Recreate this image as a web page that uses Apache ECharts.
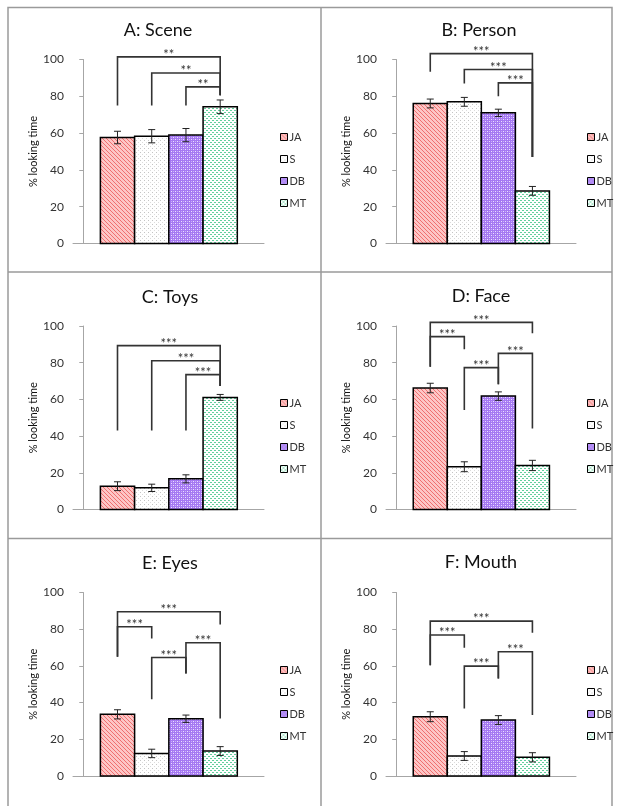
<!DOCTYPE html>
<html><head><meta charset="utf-8">
<script src="https://cdn.jsdelivr.net/npm/echarts@6/dist/echarts.min.js"></script>
<style>html,body{margin:0;padding:0;background:#fff;}#c{width:621px;height:806px;}</style>
</head><body><div id="c"></div>
<script>
// ---------------- data ----------------
const groups = ['JA', 'S', 'DB', 'MT'];
const groupPos = [1, 2, 3, 4];
const panelTitles = ['A: Scene', 'B: Person', 'C: Toys', 'D: Face', 'E: Eyes', 'F: Mouth'];
const yAxisName = '% looking time';
const yMin = 0, yMax = 100, yStep = 20;

const sceneMeans  = [57.6, 58.3, 58.9, 74.3];
const sceneErrors = [3.4, 3.6, 3.6, 3.7];
const personMeans  = [76.1, 77.0, 71.0, 28.6];
const personErrors = [2.4, 2.4, 2.0, 2.4];
const toysMeans  = [12.7, 11.8, 16.7, 61.1];
const toysErrors = [2.4, 2.0, 2.2, 1.6];
const faceMeans  = [66.2, 23.3, 61.8, 24.0];
const faceErrors = [2.6, 2.7, 2.3, 2.8];
const eyesMeans  = [33.6, 12.3, 31.2, 13.6];
const eyesErrors = [2.5, 2.3, 2.0, 2.4];
const mouthMeans  = [32.3, 10.9, 30.5, 10.2];
const mouthErrors = [2.7, 2.4, 2.4, 2.5];

// brackets: [left group pos, right group pos, top, left leg end, right leg end]
const sceneBrackets  = [[1, 4, 101.4, 75.0, 80.6], [2, 4, 92.7, 75.0, 80.6], [3, 4, 85.1, 75.0, 80.6]];
const sceneStars     = ['**', '**', '**'];
const personBrackets = [[1, 4, 103.2, 93.3, 47.0], [2, 4, 94.6, 87.0, 47.0], [3, 4, 87.3, 80.0, 47.0]];
const personStars    = ['***', '***', '***'];
const toysBrackets   = [[1, 4, 89.3, 43.1, 67.3], [2, 4, 81.1, 43.1, 67.3], [3, 4, 73.5, 43.1, 67.3]];
const toysStars      = ['***', '***', '***'];
const faceBrackets   = [[1, 4, 102.0, 77.8, 96.0], [1, 2, 94.2, 77.8, 87.3], [2, 3, 77.3, 54.2, 68.2], [3, 4, 85.1, 68.2, 44.2]];
const faceStars      = ['***', '***', '***', '***'];
const eyesBrackets   = [[1, 4, 89.5, 65.0, 82.5], [1, 2, 81.3, 65.0, 75.0], [2, 3, 64.6, 41.8, 55.9], [3, 4, 72.6, 55.9, 31.4]];
const eyesStars      = ['***', '***', '***', '***'];
const mouthBrackets  = [[1, 4, 84.4, 60.4, 78.0], [1, 2, 76.8, 60.4, 69.9], [2, 3, 59.9, 36.8, 53.2], [3, 4, 67.7, 53.2, 33.2]];
const mouthStars     = ['***', '***', '***', '***'];

const panels = [
  { means: sceneMeans,  errors: sceneErrors,  brackets: sceneBrackets,  stars: sceneStars },
  { means: personMeans, errors: personErrors, brackets: personBrackets, stars: personStars },
  { means: toysMeans,   errors: toysErrors,   brackets: toysBrackets,   stars: toysStars },
  { means: faceMeans,   errors: faceErrors,   brackets: faceBrackets,   stars: faceStars },
  { means: eyesMeans,   errors: eyesErrors,   brackets: eyesBrackets,   stars: eyesStars },
  { means: mouthMeans,  errors: mouthErrors,  brackets: mouthBrackets,  stars: mouthStars }
];

// ---------------- layout / style ----------------
const FONT = 'Lato, "Open Sans", sans-serif';
const colLeft = [73, 386], colWidth = [191, 190];
const rowTop = [59.5, 326, 592.5], rowHeight = [184, 183.5, 183.5];
const titleX = [158, 479, 170, 481, 170, 481];
const titleY = [21, 21, 288, 287, 554, 553];
const legendX = [280, 587];
const legendTop = [130, 396, 663];

function makePattern(kind) {
  const c = document.createElement('canvas');
  const ctx = c.getContext('2d');
  if (kind === 'JA') {
    c.width = 4; c.height = 4;
    ctx.fillStyle = '#fdc6c6'; ctx.fillRect(0, 0, 4, 4);
    ctx.fillStyle = '#ef7070';
    for (let i = 0; i < 4; i++) ctx.fillRect(i, i, 1, 1);
  } else if (kind === 'S') {
    c.width = 4; c.height = 4;
    ctx.fillStyle = '#ffffff'; ctx.fillRect(0, 0, 4, 4);
    ctx.fillStyle = '#c4c4c4'; ctx.fillRect(0, 0, 1, 1);
    ctx.fillStyle = '#dcdcdc'; ctx.fillRect(2, 2, 1, 1);
  } else if (kind === 'DB') {
    c.width = 4; c.height = 4;
    ctx.fillStyle = '#a578f2'; ctx.fillRect(0, 0, 4, 4);
    ctx.fillStyle = '#ece2ff';
    ctx.fillRect(1, 1, 1, 1); ctx.fillRect(3, 3, 1, 1);
    ctx.fillStyle = '#c9b0f8';
    ctx.fillRect(3, 1, 1, 1); ctx.fillRect(1, 3, 1, 1);
  } else {
    c.width = 4; c.height = 4;
    ctx.fillStyle = '#ffffff'; ctx.fillRect(0, 0, 4, 4);
    ctx.fillStyle = '#62cf9c';
    ctx.fillRect(0, 0, 2, 1); ctx.fillRect(2, 2, 2, 1);
  }
  return { image: c, repeat: 'repeat' };
}
const patterns = {};
groups.forEach(g => patterns[g] = makePattern(g));

const grid = [], xAxis = [], yAxis = [], title = [], legend = [], series = [];
panels.forEach((p, i) => {
  const col = i % 2, row = Math.floor(i / 2);
  grid.push({ left: colLeft[col], width: colWidth[col], top: rowTop[row], height: rowHeight[row], containLabel: false });
  xAxis.push({
    gridIndex: i, type: 'value', min: -0.3, max: 5.28,
    axisLine: { show: true, lineStyle: { color: '#a6a6a6', width: 1 } },
    axisTick: { show: false }, axisLabel: { show: false }, splitLine: { show: false }
  });
  yAxis.push({
    gridIndex: i, type: 'value', min: yMin, max: yMax, interval: yStep,
    name: yAxisName, nameLocation: 'middle', nameGap: 34, nameRotate: 90,
    nameTextStyle: { fontFamily: FONT, fontSize: 11, color: '#111' },
    axisLine: { show: true, lineStyle: { color: '#a6a6a6', width: 1 } },
    axisTick: { show: true, length: 4, lineStyle: { color: '#a6a6a6' } },
    axisLabel: { margin: 9, fontFamily: FONT, fontSize: 12, color: '#333' },
    splitLine: { show: false }
  });
  title.push({
    text: panelTitles[i], left: titleX[i], top: titleY[i], textAlign: 'center', padding: 0,
    textStyle: { fontFamily: FONT, fontSize: 18, fontWeight: 'normal', color: '#111' }
  });
  legend.push({
    data: groups, orient: 'vertical', left: legendX[col], top: legendTop[row],
    icon: 'rect', itemWidth: 7, itemHeight: 7, itemGap: 8, padding: 0,
    itemStyle: { borderColor: '#000', borderWidth: 1 },
    textStyle: { fontFamily: FONT, fontSize: 11, color: '#333', lineHeight: 14, padding: [0, 0, 0, -3] },
    selectedMode: false
  });
  groups.forEach((g, k) => {
    series.push({
      type: 'custom', name: g, xAxisIndex: i, yAxisIndex: i,
      itemStyle: { color: patterns[g], borderColor: '#000', borderWidth: 1.5 },
      data: [[groupPos[k], p.means[k]]],
      renderItem: (params, api) => {
        const x = api.value(0), v = api.value(1);
        const a = api.coord([x - 0.5, v]);
        const b = api.coord([x + 0.5, 0]);
        return {
          type: 'rect',
          shape: { x: a[0], y: a[1], width: b[0] - a[0], height: b[1] - a[1] },
          style: { fill: patterns[g], stroke: '#000', lineWidth: 1.5 }
        };
      },
      silent: true, animation: false
    });
  });
  // error bars
  series.push({
    type: 'custom', name: 'err' + i, xAxisIndex: i, yAxisIndex: i, silent: true, animation: false,
    data: groupPos.map((x, k) => [x, p.means[k], p.errors[k]]),
    renderItem: (params, api) => {
      const x = api.value(0), v = api.value(1), e = api.value(2);
      const hi = api.coord([x, v + e]), lo = api.coord([x, v - e]);
      const cw = 3.5;
      const st = { stroke: '#222', lineWidth: 1, fill: null };
      return {
        type: 'group', children: [
          { type: 'line', shape: { x1: hi[0], y1: hi[1], x2: lo[0], y2: lo[1] }, style: st },
          { type: 'line', shape: { x1: hi[0] - cw, y1: hi[1], x2: hi[0] + cw, y2: hi[1] }, style: st },
          { type: 'line', shape: { x1: lo[0] - cw, y1: lo[1], x2: lo[0] + cw, y2: lo[1] }, style: st }
        ]
      };
    }
  });
  // significance brackets
  series.push({
    type: 'custom', name: 'sig' + i, xAxisIndex: i, yAxisIndex: i, silent: true, animation: false, clip: false,
    data: p.brackets,
    renderItem: (params, api) => {
      const x1 = api.value(0), x2 = api.value(1), top = api.value(2), yl = api.value(3), yr = api.value(4);
      const tl = api.coord([x1, top]), tr = api.coord([x2, top]);
      const bl = api.coord([x1, yl]), br = api.coord([x2, yr]);
      return {
        type: 'group', children: [
          { type: 'polyline', shape: { points: [bl, tl, tr, br] }, style: { stroke: '#333', lineWidth: 1.6, fill: null } },
          { type: 'text', x: (tl[0] + tr[0]) / 2, y: tl[1] - 2,
            style: { text: p.stars[params.dataIndex], fontFamily: FONT, fontSize: 13, fill: '#333', align: 'center', verticalAlign: 'middle' } }
        ]
      };
    }
  });
});

const chart = echarts.init(document.getElementById('c'), null, { renderer: 'canvas' });
chart.setOption({
  backgroundColor: '#fff', animation: false,
  grid, xAxis, yAxis, title, legend, series,
  graphic: [
    { type: 'rect', shape: { x: 8, y: 7.5, width: 604, height: 820 }, style: { fill: null, stroke: '#9a9a9a', lineWidth: 1.5 }, silent: true },
    { type: 'line', shape: { x1: 321, y1: 7.5, x2: 321, y2: 830 }, style: { stroke: '#9a9a9a', lineWidth: 1.5 }, silent: true },
    { type: 'line', shape: { x1: 8, y1: 272, x2: 612, y2: 272 }, style: { stroke: '#9a9a9a', lineWidth: 1.5 }, silent: true },
    { type: 'line', shape: { x1: 8, y1: 538.5, x2: 612, y2: 538.5 }, style: { stroke: '#9a9a9a', lineWidth: 1.5 }, silent: true }
  ]
});
</script></body></html>
